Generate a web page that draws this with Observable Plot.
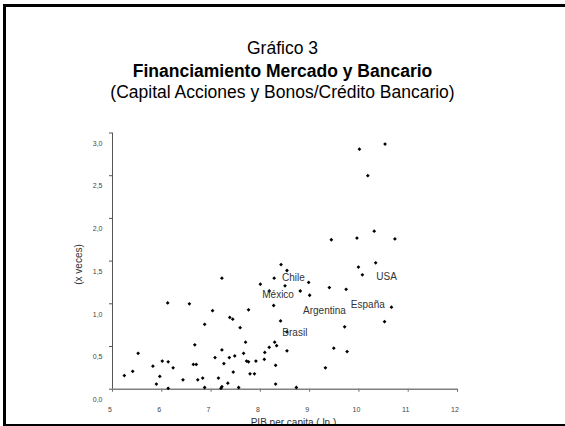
<!DOCTYPE html>
<html><head><meta charset="utf-8">
<script src="https://cdn.jsdelivr.net/npm/d3@7"></script>
<script src="https://cdn.jsdelivr.net/npm/@observablehq/plot@0.6"></script>
<style>
body{margin:0;background:#fff;overflow:hidden;}
#wrap{position:relative;width:565px;height:426px;overflow:hidden;font-family:"Liberation Sans",Arial,sans-serif;background:#fff;}
#frame{position:absolute;left:3px;top:4px;width:600px;height:417px;border:3px solid #000;pointer-events:none;z-index:2;}
.t{position:absolute;left:0;width:565px;text-align:center;color:#000;font-size:17.5px;line-height:17.5px;white-space:nowrap;}
#chart{position:absolute;left:0;top:110px;z-index:1;}
</style></head>
<body><div id="wrap">
<div class="t" style="top:40px">Gráfico 3</div>
<div class="t" style="top:63px;font-weight:bold">Financiamiento Mercado y Bancario</div>
<div class="t" style="top:84px">(Capital Acciones y Bonos/Crédito Bancario)</div>
<div id="chart"></div>
<div id="frame"></div>
</div>
<script>
// PIB per capita (ln)
const xs = [5.24,5.41,5.52,5.82,5.89,5.96,6.01,6.12,6.13,6.13,6.23,6.43,6.56,6.64,6.70,6.67,6.73,6.83,6.87,6.87,
  7.03,7.08,7.15,7.20,7.22,7.22,7.22,7.26,7.34,7.37,7.38,7.44,7.45,7.48,7.56,7.59,7.66,7.70,7.72,7.76,
  7.76,7.79,7.88,7.91,8.00,8.08,8.09,8.18,8.18,8.27,8.28,8.29,8.33,8.31,8.31,8.41,8.42,8.50,8.54,8.54,
  8.54,8.73,8.81,8.98,9.00,9.32,9.40,9.44,9.49,9.71,9.74,9.76,9.96,9.99,10.01,10.07,10.18,10.31,10.34,10.52,
  10.53,10.66,10.73];
// Capital acciones y bonos / crédito bancario (x veces)
const ys = [0.16,0.21,0.42,0.27,0.06,0.15,0.33,1.01,0.32,0.01,0.25,0.11,1.00,0.29,0.29,0.52,0.11,0.13,0.02,0.76,
  0.92,0.37,0.13,0.01,0.03,0.46,1.30,0.30,0.07,0.37,0.84,0.82,0.20,0.39,0.02,0.72,0.42,0.55,0.33,0.32,
  0.93,0.18,0.18,0.33,1.23,0.35,0.43,1.15,0.49,0.98,1.30,0.55,0.51,0.28,0.06,0.80,1.46,1.21,1.39,0.45,
  0.67,0.02,1.15,1.25,1.10,0.25,1.19,1.75,0.48,0.73,1.17,0.44,1.77,1.43,2.81,1.34,2.50,1.85,1.48,0.79,
  2.87,0.96,1.76];
// country labels (anchor in data units)
const labelNames = ["Chile","México","Argentina","España","USA","Brasil"];
const labelX = [8.67,8.36,9.30,10.18,10.56,8.70];
const labelY = [1.31,1.105,0.913,0.988,1.32,0.664];
const xTicks = [5,6,7,8,9,10,11,12];
const yTicks = [0,0.5,1,1.5,2,2.5,3];
const xTitle = "PIB per capita ( ln )";
const yTitle = "(x veces)";

const points = xs.map((x, i) => ({x, y: ys[i]}));
const labels = labelNames.map((name, i) => ({name, x: labelX[i], y: labelY[i]}));
const fmtY = d => d.toFixed(1).replace(".", ",");

const chart = Plot.plot({
  width: 565, height: 316,
  marginLeft: 112, marginRight: 108, marginTop: 22.5, marginBottom: 37.3,
  style: {fontFamily: "'Liberation Sans', Arial, sans-serif", background: "transparent", overflow: "visible"},
  x: {domain: [5, 12]},
  y: {domain: [0, 3]},
  marks: [
    Plot.axisX({ticks: xTicks, tickSize: 3, tickFormat: () => "", stroke: "#666", label: null}),
    Plot.axisX({ticks: xTicks, tickSize: 0, tickPadding: 18, dx: -2.5, fontSize: 7, fill: "#444", tickFormat: d => String(d), label: null}),
    Plot.axisY({ticks: yTicks, tickSize: 3, tickFormat: () => "", stroke: "#555", label: null}),
    Plot.axisY({ticks: yTicks, tickSize: 0, tickPadding: 10, dy: 10.5, fontSize: 7, fill: "#444", tickFormat: fmtY, label: null}),
    Plot.ruleY([0], {stroke: "#808080", strokeWidth: 1.5}),
    Plot.ruleX([5], {stroke: "#555", strokeWidth: 1}),
    Plot.dot(points, {x: "x", y: "y", symbol: "diamond2", r: 1.7, fill: "#000", stroke: "none"}),
    Plot.text(labels, {x: "x", y: "y", text: "name", fontSize: 10, fill: "#333"}),
    Plot.text([xTitle], {frameAnchor: "bottom", text: d => d, dy: 36.5, dx: 8.5, fontSize: 10, fill: "#333", textAnchor: "middle"}),
    Plot.text([yTitle], {frameAnchor: "left", text: d => d, rotate: -90, dx: -33.7, dy: 3.4, fontSize: 10, fill: "#333", textAnchor: "middle"})
  ]
});
document.getElementById("chart").appendChild(chart);
</script>
</body></html>
